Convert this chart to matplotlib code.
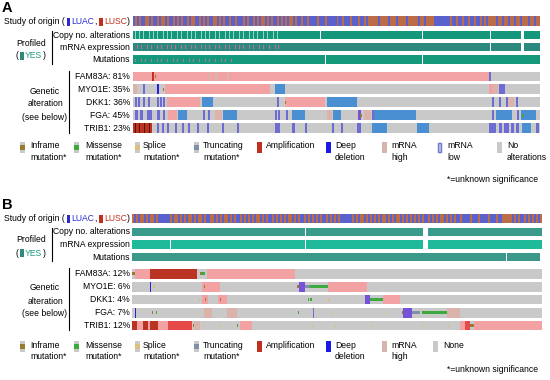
import matplotlib
matplotlib.use('Agg')
import matplotlib.pyplot as plt
from matplotlib.patches import Rectangle

plt.rcParams['font.family'] = ['Liberation Sans', 'DejaVu Sans']
FS = 6.2

# ---------------- data ----------------
genes = ['FAM83A', 'MYO1E', 'DKK1', 'FGA', 'TRIB1']
pct_A = [81, 35, 36, 45, 23]
pct_B = [12, 6, 4, 7, 12]
N_A = 204
N_B = 205

# study of origin per sample: b = LUAC, r = LUSC
study_A = ("brbrbbrrbr bbrbrrbrbb rbrbrbbrbr rbbrbrbrbb rrbrbrbbrb brbbbrbrbb "
           "rbrbrrbrbr bbrbrbrbrr brbbrbbrbb bbrbbbrbbb bbrbbrbbbr bbbrbbrbrr "
           "rrrbrrrrbr rrbrrrrbrr rrrbrrbrrr rbbbbbbbbr bbrbbrbbrb brbbrbrbrr "
           "rrbrrbrrbr rbrrbrrrbr rbrr").replace(' ', '')
study_B = ("rbrbrrbrbr rbrbbbbbbr brrbrbrbrr brbrrbrbbr rbrbrbrrbr brbbrbrbrb "
           "rbrrbrbrbb rbrbrbrbrr brbrbbrbrb rbrbrbbrbr brbrbbbbbb rbrbrrbrbr "
           "brbrbrrbrb rbrrbrbrbr brbrbrbbrb rbrbrrbrbr brbbrbbbbr bbbrbbbbrb "
           "bbrbbrrrrr brbrbbrbrb rbrbr").replace(' ', '')

# profiled tracks: not-profiled sample spans
cna_A_unprof = [(93.5, 94), (145, 145.5), (179, 179.5), (194.5, 196)]
mrna_A_unprof = [(179, 179.5), (194.5, 196)]
mut_A_unprof = [(96, 96.5), (145, 145.5)]
cna_A_light = [1, 3, 5, 8, 10, 12, 15, 17, 19, 22, 24, 27, 29, 31, 34, 36, 38, 41,
               43, 46, 48, 50, 53, 55, 58, 60, 62, 65, 67, 70, 72]
mrna_A_pink = [2, 4, 7, 9, 12, 14, 17, 19, 21, 24, 26, 29, 31, 34, 36, 38, 41, 43,
               46, 48, 51, 53, 55, 58, 60, 63, 65, 68, 71, 72.5]
mut_A_pink = [1, 4, 6, 9, 12, 14, 17, 20, 22, 25, 28, 30, 33, 36, 38, 41, 44, 46, 49]
cna_B_unprof = [(86.5, 87), (145.5, 148)]
mrna_B_unprof = [(19, 19.5), (86.5, 87), (145.5, 148)]
mut_B_unprof = [(187, 187.5), (204, 205)]

# genetic alterations: (start sample, end sample, type)
alter_A = {
    'FAM83A': [(0, 178.5, 'H'), (9.5, 10.5, 'A'), (11, 11.7, 'I'), (38, 39, 'x'),
               (41, 42.5, 'x'), (47, 48, 'x'), (178.5, 179.5, 'l')],
    'MYO1E': [(0, 2, 'x'), (5, 6, 'l'), (12, 13, 'D'), (15, 15.6, 'I'), (16, 68.5, 'H'),
              (71, 76, 'L'), (178.5, 180.5, 'H'), (180.5, 183, 'x'), (183.5, 186.5, 'l')],
    'DKK1': [(1, 2, 'l'), (2.5, 3.5, 'l'), (5, 6, 'l'), (7.5, 8.5, 'l'), (12, 13, 'l'),
             (13.5, 14.5, 'l'), (15, 16, 'l'), (17, 33.5, 'H'), (34.5, 40, 'L'),
             (72, 73, 'l'), (76, 96, 'H'), (76, 76.6, 'I'), (97, 112.5, 'L'),
             (180, 181, 'l'), (183.5, 184.5, 'l'), (187, 188, 'l'), (188, 191, 'x'),
             (192, 193, 'l')],
    'FGA': [(1, 2.5, 'l'), (3.5, 5, 'l'), (7, 9.5, 'l'), (12, 13.5, 'l'), (15, 16, 'l'),
            (17.5, 22, 'H'), (22.5, 27, 'L'), (35, 36, 'l'), (37.5, 38.5, 'l'),
            (41, 44.5, 'x'), (45, 52, 'L'), (71, 72, 'l'), (72.5, 73.5, 'l'),
            (76.5, 77.5, 'l'), (79.5, 86, 'L'), (97, 99.5, 'x'), (100, 104.5, 'L'),
            (113, 114.5, 'P'), (114, 114.6, 'I'), (116, 119.5, 'x'), (120, 121, 'l'),
            (121, 142, 'L'), (180, 181, 'l'), (182, 190, 'L'), (192.5, 193.5, 'l'),
            (194.5, 202, 'L'), (195, 196, 'M')],
    'TRIB1': [(0, 9.5, 'A'), (1, 1.5, 'K'), (3, 3.5, 'K'), (5.5, 6, 'K'), (8, 8.5, 'K'),
              (12, 13, 'l'), (14.5, 15.5, 'l'), (17, 18, 'l'), (21, 22, 'l'),
              (24.5, 25.5, 'l'), (27.5, 28.5, 'l'), (32, 33, 'l'), (37, 38, 'l'),
              (44.5, 45.5, 'l'), (52, 53, 'l'), (71, 73.5, 'l'), (79.5, 81, 'l'),
              (86, 87, 'l'), (99.5, 100.5, 'l'), (104.5, 105.5, 'l'), (112.5, 114.5, 'l'),
              (120, 127.5, 'L'), (142.5, 148.5, 'L'), (178.5, 182, 'l'), (183.5, 185, 'l'),
              (186, 188.5, 'l'), (189.5, 191, 'l'), (192, 193.5, 'l'), (195, 199.5, 'L'),
              (202, 203.5, 'l')],
}
alter_B = {
    'FAM83A': [(0, 1.5, 'I'), (1.5, 9, 'H'), (9, 32.5, 'A'), (34, 35, 'I'),
               (35, 36.5, 'M'), (37.5, 81.5, 'H')],
    'MYO1E': [(9, 9.7, 'D'), (10.5, 11.5, 'S'), (35, 44, 'H'), (36, 36.7, 'I'),
              (82.5, 83.5, 'I'), (83.5, 86.5, 'P'), (86.5, 89, 'T'), (89, 98, 'M'),
              (98, 117.5, 'H')],
    'DKK1': [(33.5, 34, 'S'), (35, 38, 'H'), (36.5, 37, 'I'), (43, 47.5, 'H'),
             (44, 44.5, 'I'), (88, 88.6, 'M'), (89.2, 89.8, 'M'), (98, 99, 'S'),
             (116.5, 119, 'P'), (119, 125.5, 'M'), (125.5, 134, 'H')],
    'FGA': [(1.5, 2.2, 'D'), (10, 10.6, 'I'), (12, 12.6, 'M'), (33, 33.6, 'S'),
            (36, 40, 'x'), (37, 37.6, 'S'), (47.5, 52.5, 'x'), (83, 83.6, 'M'),
            (90.5, 91.2, 'l'), (100, 100.6, 'S'), (126.5, 127.1, 'S'), (135, 135.6, 'I'),
            (135.6, 140, 'P'), (140, 144, 'T'), (145, 157.5, 'M'), (157.5, 164, 'x')],
    'TRIB1': [(0, 2.5, 'A'), (2.5, 5.5, 'H'), (5.5, 8, 'A'), (8, 9, 'H'), (9, 13, 'A'),
              (13, 18, 'H'), (18, 30, 'R'), (30.5, 31, 'I'), (31, 34, 'x'),
              (35.5, 36, 'S'), (44, 44.6, 'S'), (52.5, 53, 'I'), (54, 60, 'H'),
              (90, 90.6, 'S'), (101.5, 102.1, 'S'), (120, 120.6, 'S'), (145, 145.6, 'S'),
              (158, 158.6, 'S'), (164, 166.5, 'H'), (166.5, 169, 'R'), (169, 171, 'I'),
              (171, 205, 'H')],
}

legend_A = [('I', 'Inframe\nmutation*'), ('M', 'Missense\nmutation*'),
            ('S', 'Splice\nmutation*'), ('T', 'Truncating\nmutation*'),
            ('A', 'Amplification'), ('D', 'Deep\ndeletion'), ('Hl', 'mRNA\nhigh'),
            ('Lo', 'mRNA\nlow'), ('N', 'No\nalterations')]
legend_B = [('I', 'Inframe\nmutation*'), ('M', 'Missense\nmutation*'),
            ('S', 'Splice\nmutation*'), ('T', 'Truncating\nmutation*'),
            ('A', 'Amplification'), ('D', 'Deep\ndeletion'), ('Hl', 'mRNA\nhigh'),
            ('N', 'None')]

# ---------------- styles ----------------
GRAY = '#c9c9c9'
COL = {'H': '#f2a2a2', 'x': '#dbb3ab', 'L': '#4b8fd3', 'l': '#6c6cd4',
       'A': '#bb3322', 'R': '#e64a48', 'K': '#5a1208', 'D': '#2222e0', 'P': '#7652d8',
       'I': '#9a7a30', 'M': '#3caa3c', 'S': '#d8c080', 'T': '#8090a8'}
MUTS = {'I', 'M', 'S', 'T'}
STUDY_COL = {'b': '#5a60cc', 'r': '#bd6c48'}
BLUE_T = '#2b2bd0'
RED_T = '#c0301e'
TEAL_T = '#1a9a80'

fig = plt.figure(figsize=(5.5, 3.8), dpi=100)
ov = fig.add_axes([0, 0, 1, 1])
ov.set_xlim(0, 550)
ov.set_ylim(380, 0)
ov.axis('off')


def track_axes(x0, x1, y0, y1, n):
    ax = fig.add_axes([x0 / 550, 1 - y1 / 380, (x1 - x0) / 550, (y1 - y0) / 380])
    ax.set_xlim(0, n)
    ax.set_ylim(y1, y0)
    ax.axis('off')
    return ax


def span(ax, s, e, y0, h, col):
    ax.bar(x=s, height=h, width=e - s, bottom=y0, align='edge', color=col, linewidth=0)


def draw_segs(ax, segs, y0, y1):
    h = y1 - y0
    for s, e, c in segs:
        if c in MUTS:
            span(ax, s, e, y0 + h * 0.32, h * 0.36, COL[c])
        else:
            span(ax, s, e, y0, h, COL[c])


def panel(yoff, x0, x1, n, study, alters, pcts, cna_col, mrna_col, mut_col,
          cna_un, mrna_un, mut_un, light=None, pink=None, mpink=None):
    rows = {'study': (16.5, 26), 'cna': (31, 39), 'mrna': (43, 51.5), 'mut': (55.5, 64)}
    grows = [(72, 81.5), (84.5, 94.5), (97.5, 107), (110.5, 120.5), (123.5, 133)]
    ax = track_axes(x0, x1, 16 + yoff, 134 + yoff, n)
    # study of origin
    y0, y1 = rows['study']
    ax.bar(x=list(range(len(study))), height=y1 - y0, width=1.0, bottom=y0 + yoff,
           align='edge', color=[STUDY_COL[c] for c in study], linewidth=0)
    # profiled
    for key, col, un in (('cna', cna_col, cna_un), ('mrna', mrna_col, mrna_un),
                         ('mut', mut_col, mut_un)):
        y0, y1 = rows[key]
        span(ax, 0, n, y0 + yoff, y1 - y0, col)
        for s, e in un:
            span(ax, s, e, y0 + yoff - 0.5, y1 - y0 + 1, 'white')
    if light:
        y0, y1 = rows['cna']
        ax.bar(x=light, height=y1 - y0, width=0.45, bottom=y0 + yoff, align='edge',
               color='#8fd6c4', linewidth=0)
    if pink:
        y0, y1 = rows['mrna']
        ax.bar(x=pink, height=(y1 - y0) * 0.45, width=0.5, bottom=y0 + yoff + 2,
               align='edge', color='#c86a9a', linewidth=0)
    if mpink:
        y0, y1 = rows['mut']
        ax.bar(x=mpink, height=2.5, width=0.5, bottom=y0 + yoff + 4, align='edge',
               color='#b07a98', linewidth=0)
    # genetic alterations
    for g, (y0, y1) in zip(genes, grows):
        span(ax, 0, n, y0 + yoff, y1 - y0, GRAY)
        draw_segs(ax, alters[g], y0 + yoff, y1 + yoff)
    # labels
    t = dict(fontsize=FS, va='center')
    ov.text(4, 21.5 + yoff, 'Study of origin (', ha='left', **t)
    ov.add_patch(Rectangle((67, 17.5 + yoff), 3, 8, color=BLUE_T, lw=0))
    ov.text(71, 21.5 + yoff, 'LUAC', ha='left', color=BLUE_T, **t)
    ov.text(94, 21.5 + yoff, ',', ha='left', **t)
    ov.add_patch(Rectangle((99, 17.5 + yoff), 3.5, 8, color=RED_T, lw=0))
    ov.text(104, 21.5 + yoff, 'LUSC', ha='left', color=RED_T, **t)
    ov.text(127, 21.5 + yoff, ')', ha='left', **t)
    ov.text(130, 35 + yoff, 'Copy no. alterations', ha='right', **t)
    ov.text(130, 47.5 + yoff, 'mRNA expression', ha='right', **t)
    ov.text(130, 60 + yoff, 'Mutations', ha='right', **t)
    ov.text(31, 43 + yoff, 'Profiled', ha='center', **t)
    ov.text(16, 56 + yoff, '(', ha='left', **t)
    ov.add_patch(Rectangle((20, 52 + yoff), 3.5, 8, color='#2f8a7e', lw=0))
    ov.text(25, 56 + yoff, 'YES', ha='left', color=TEAL_T, **t)
    ov.text(42.5, 56 + yoff, ')', ha='left', **t)
    ov.plot([52, 52], [31 + yoff, 64 + yoff], color='black', lw=0.8)
    ov.plot([69, 69], [71 + yoff, 133 + yoff], color='black', lw=0.8)
    for g, p, (y0, y1) in zip(genes, pcts, grows):
        ov.text(130, (y0 + y1) / 2 + yoff, f'{g}: {p}%', ha='right', **t)
    ov.text(45, 91 + yoff, 'Genetic', ha='center', **t)
    ov.text(45, 104 + yoff, 'alteration', ha='center', **t)
    ov.text(45, 117 + yoff, '(see below)', ha='center', **t)


panel(0, 133, 540, N_A, study_A, alter_A, pct_A, '#14977a', '#2b8a7d', '#14997b',
      cna_A_unprof, mrna_A_unprof, mut_A_unprof, cna_A_light, mrna_A_pink, mut_A_pink)
panel(197, 132, 542, N_B, study_B, alter_B, pct_B, '#3a9a8b', '#1fba9a', '#3c998a',
      cna_B_unprof, mrna_B_unprof, mut_B_unprof)

ov.text(2, 8.5, 'A', fontsize=10.5, fontweight='bold', ha='left', va='center')
ov.text(2, 205, 'B', fontsize=10.5, fontweight='bold', ha='left', va='center')

icon_x = [20, 74, 135, 194, 257, 326, 382, 437, 497]
text_x = [30, 85, 143, 203, 266, 335, 391, 447, 507]
icon_x_B = [20, 74, 135, 194, 257, 326, 382, 433]
text_x_B = [30, 85, 143, 203, 266, 335, 391, 443]


def legend(items, ix, tx, ytop, ytext):
    for (k, lab), x, xt in zip(items, ix, tx):
        w, h = 5, 11
        if k in MUTS:
            ov.add_patch(Rectangle((x, ytop), w, h, color=GRAY, lw=0))
            ov.add_patch(Rectangle((x, ytop + h * 0.3), w, h * 0.4, color=COL[k], lw=0))
        elif k == 'Hl':
            ov.add_patch(Rectangle((x, ytop), w, h, color='#d6b6ac', lw=0))
        elif k == 'Lo':
            ov.add_patch(Rectangle((x + 0.6, ytop + 0.6), w - 1.2, h - 1.2,
                                   facecolor=GRAY, edgecolor='#6a78d0', lw=1.0))
        elif k == 'N':
            ov.add_patch(Rectangle((x, ytop), w, h, color=GRAY, lw=0))
        elif k == 'A':
            ov.add_patch(Rectangle((x, ytop), w, h, color='#c0301e', lw=0))
        elif k == 'D':
            ov.add_patch(Rectangle((x, ytop), w, h, color='#1a1ae6', lw=0))
        ov.text(xt, ytext, lab, fontsize=FS, ha='left', va='top', linespacing=1.35)


legend(legend_A, icon_x, text_x, 142, 141.5)
legend(legend_B, icon_x_B, text_x_B, 341, 340.5)
ov.text(538, 180, '*=unknown significance', fontsize=FS, ha='right', va='center')
ov.text(538, 370, '*=unknown significance', fontsize=FS, ha='right', va='center')

fig.savefig('out.png', dpi=100)
